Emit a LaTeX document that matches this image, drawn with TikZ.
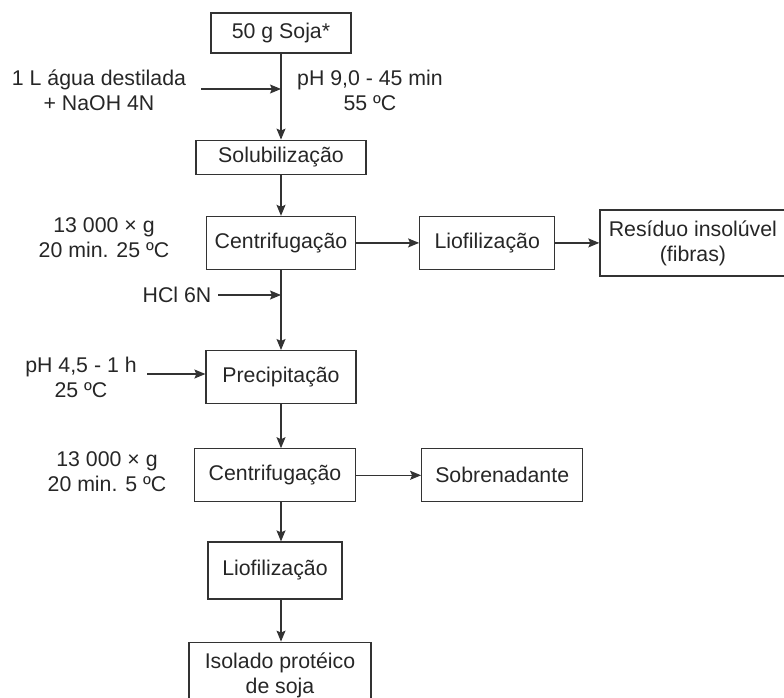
\documentclass[tikz,border=0pt]{standalone}
\usepackage{fontspec}
\setmainfont{Liberation Sans}
\usetikzlibrary{arrows, arrows.meta, positioning}

\begin{document}
\begin{tikzpicture}[
        x=1pt, y=-1pt,
        >={Stealth[length=11pt, width=9pt, inset=2pt]},
        box/.style={
            draw=black!80,
            line width=1.2pt,
            minimum height=53pt,
            inner sep=0pt,
            align=center
        },
        lbl/.style={
            inner sep=0pt,
            align=center
        },
        arr/.style={
            ->,
            line width=1.2pt,
            draw=black!80
        },
        every node/.style={font=\fontsize{21.3}{25}\selectfont, text=black!85}
    ]
        \useasboundingbox (0,0) rectangle (784,697);

        % main column
        \node[box, minimum width=140pt, minimum height=40pt] (soja) at (281,33) {50 g Soja*};
        \node[box, minimum width=170pt, minimum height=34pt, below=86pt of soja] (solub) {Solubilização};
        \node[box, minimum width=149pt, below=41pt of solub] (centA) {Centrifugação};
        \node[box, minimum width=150pt, below=80pt of centA] (precip) {Precipitação};
        \node[box, minimum width=161pt, below=44pt of precip, xshift=-6pt] (centB) {Centrifugação};
        \node[box, minimum width=134pt, minimum height=57pt, below=39pt of centB] (liofB) {Liofilização};
        \node[box, minimum width=182pt, minimum height=66pt, below=42pt of liofB, xshift=5pt] (isolado) {Isolado protéico\\de soja};

        % side branches
        \node[box, minimum width=135pt, right=63pt of centA] (liofA) {Liofilização};
        \node[box, minimum width=186pt, minimum height=66pt, right=44pt of liofA] (residuo) {Resíduo insolúvel\\(fibras)};
        \node[box, minimum width=161pt, right=65pt of centB] (sobren) {Sobrenadante};

        % conditions
        \node[lbl] (agua) at (99,90) {1 L água destilada\\+ NaOH 4N};
        \node[lbl] (phA) at (370,90) {pH 9,0 - 45 min\\55 ºC};
        \node[lbl] (condA) at (104,238) {13 000 × g\\20 min. 25 ºC};
        \node[lbl] (hcl) at (177,295) {HCl 6N};
        \node[lbl] (phB) at (81,377) {pH 4,5 - 1 h\\25 ºC};
        \node[lbl] (condB) at (107,472) {13 000 × g\\20 min. 5 ºC};

        \coordinate (aguain) at (201,89);
        \coordinate (hclin) at (218,295);
        \coordinate (phin) at (147,374);

        % connectors
        \draw[arr] (soja.south) -- (soja.south |- solub.north);
        \draw[arr] (aguain) -- (aguain -| soja.south);
        \draw[arr] (solub.south) -- (solub.south |- centA.north);
        \draw[arr] (centA.south) -- (centA.south |- precip.north);
        \draw[arr] (hclin) -- (hclin -| centA.south);
        \draw[arr] (phin) -- (phin -| precip.west);
        \draw[arr] (precip.south) -- (precip.south |- centB.north);
        \draw[arr] (precip.south |- centB.south) -- (precip.south |- liofB.north);
        \draw[arr] (precip.south |- liofB.south) -- (precip.south |- isolado.north);
        \draw[arr] (centA) -- (liofA);
        \draw[arr] (liofA.east) -- (liofA.east -| residuo.west);
        \draw[arr] (centB.east) -- (centB.east -| sobren.west);

    \end{tikzpicture}
\end{document}
